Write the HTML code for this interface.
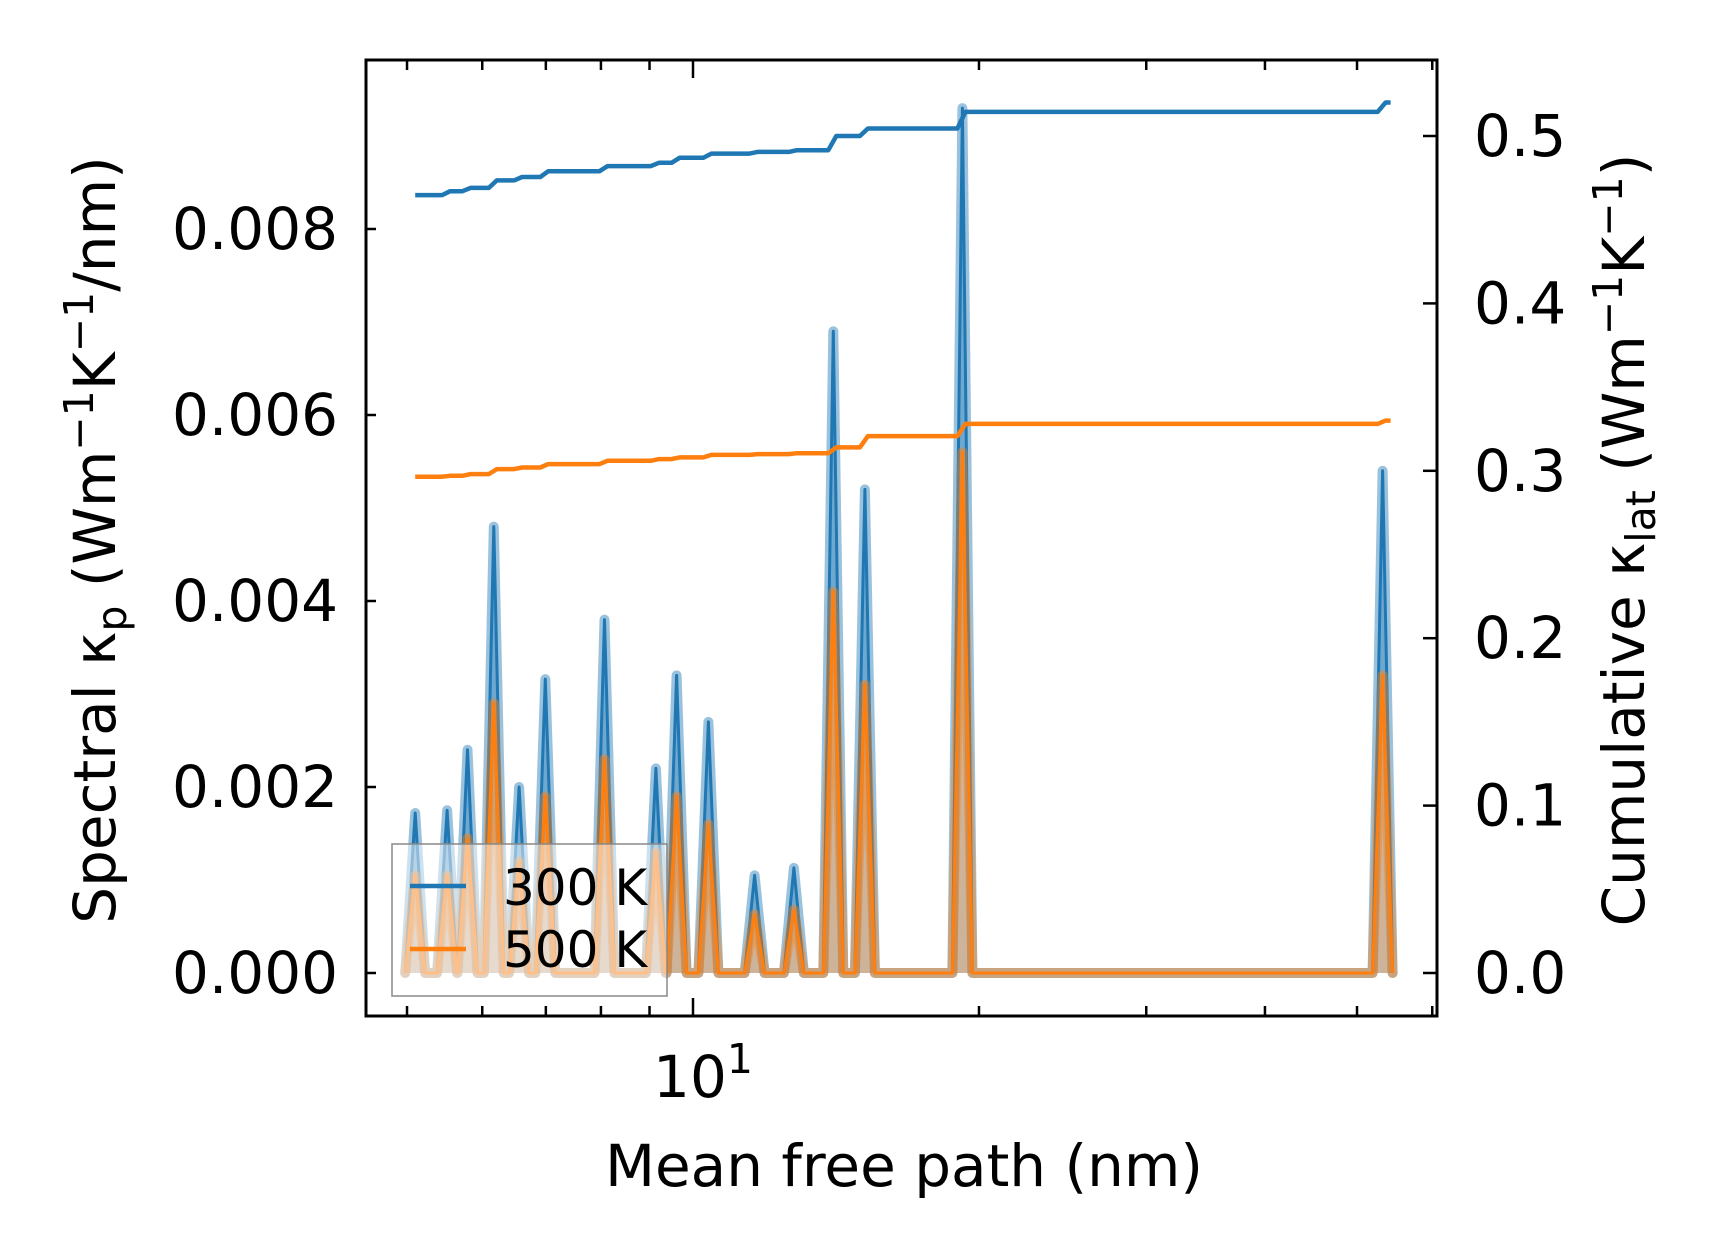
<!DOCTYPE html>
<html><head><meta charset="utf-8"><style>
body{margin:0;background:#fff}
svg text{font-family:"DejaVu Sans","Liberation Sans",sans-serif;fill:#000}
</style></head><body>
<svg id="chart" width="1716" height="1253" viewBox="0 0 1716 1253" xmlns="http://www.w3.org/2000/svg" style="position:absolute;left:0;top:0">
<rect width="1716" height="1253" fill="#fff"/>
<g id="plot"></g>
<g id="axes"></g>
</svg>
<script>
const mfp = [5.10,5.51,5.79,6.17,6.56,6.99,8.07,9.14,9.61,10.38,11.61,12.77,14.05,15.17,19.21,53.2];
const spectral300 = [0.00172,0.00175,0.0024,0.0048,0.0020,0.00316,0.0038,0.0022,0.0032,0.0027,0.00105,0.00113,0.0069,0.0052,0.0093,0.0054];
const spectral500 = [0.00105,0.00105,0.00145,0.0029,0.0012,0.0019,0.0023,0.0013,0.0019,0.0016,0.00063,0.00068,0.0041,0.0031,0.0056,0.0032];
const cum300 = [0.4647,0.467,0.469,0.4735,0.4755,0.479,0.482,0.484,0.487,0.4895,0.4905,0.4915,0.5,0.5045,0.5144,0.520];
const cum500 = [0.2965,0.297,0.298,0.301,0.302,0.304,0.306,0.307,0.308,0.3095,0.310,0.3105,0.314,0.3207,0.328,0.330];
const leftTicks = [0,0.002,0.004,0.006,0.008];
const leftTickLabels = ["0.000","0.002","0.004","0.006","0.008"];
const rightTicks = [0,0.1,0.2,0.3,0.4,0.5];
const rightTickLabels = ["0.0","0.1","0.2","0.3","0.4","0.5"];
const xMinorTicks = [5,6,7,8,9,20,30,40,50,60];

const L=366,R=1437,T=60,B=1016;
const NS="http://www.w3.org/2000/svg";
function X(v){return 693+950*Math.log10(v/10);}
function YL(v){return 973-v/0.002*186.0;}
function YR(v){return 973-v/0.1*167.4;}
function mk(tag,attrs,parent,text){const e=document.createElementNS(NS,tag);for(const k in attrs)e.setAttribute(k,attrs[k]);if(text!==undefined)e.textContent=text;parent.appendChild(e);return e;}
const plot=document.getElementById('plot'),axes=document.getElementById('axes');
const C3='#1f77b4',C5='#ff7f0e';

function spectralPts(vals){
  let pts=[];const hw=10;
  mfp.forEach((m,i)=>{const x=X(m);pts.push([x-hw,YL(0)],[x,YL(vals[i])],[x+hw,YL(0)]);});
  return pts;
}
function drawSpectral(vals,col,name){
  const pts=spectralPts(vals);
  const s=pts.map(p=>p[0].toFixed(1)+','+p[1].toFixed(1)).join(' ');
  const f=mk('polygon',{points:s+' '+pts[pts.length-1][0].toFixed(1)+','+YL(0)+' '+pts[0][0].toFixed(1)+','+YL(0),fill:col,'fill-opacity':0.35},plot);
  
  
  const w=mk('polyline',{points:s,fill:'none',stroke:col,'stroke-opacity':0.45,'stroke-width':10,'stroke-linejoin':'round','stroke-linecap':'round'},plot);
  
  
  const l=mk('polyline',{points:s,fill:'none',stroke:col,'stroke-width':3,'stroke-linejoin':'round'},plot);
  
  
}
function drawCum(vals,col,name){
  let pts=[[X(mfp[0]),YR(vals[0])]];
  for(let i=1;i<mfp.length;i++){const x=X(mfp[i]);pts.push([x-5,YR(vals[i-1])],[x+3,YR(vals[i])]);}
  pts.push([X(mfp[mfp.length-1])+8,YR(vals[vals.length-1])]);
  const l=mk('polyline',{points:pts.map(p=>p[0].toFixed(1)+','+p[1].toFixed(1)).join(' '),fill:'none',stroke:col,'stroke-width':4.5,'stroke-linejoin':'round'},plot);
  
  
}
drawSpectral(spectral300,C3,'spectral-300k');
drawSpectral(spectral500,C5,'spectral-500k');
drawCum(cum300,C3,'cumulative-300k');
drawCum(cum500,C5,'cumulative-500k');

const fr=mk('rect',{x:L,y:T,width:R-L,height:B-T,fill:'none',stroke:'#000','stroke-width':3},axes);


leftTicks.forEach((v,i)=>{const y=YL(v);
  const t=mk('line',{x1:L,x2:L+10,y1:y,y2:y,stroke:'#000','stroke-width':2.5},axes);
  
  
  const tx=mk('text',{x:L-28,y:y+20,'text-anchor':'end','font-size':58},axes,leftTickLabels[i]);
  
  
});
rightTicks.forEach((v,i)=>{const y=YR(v);
  const t=mk('line',{x1:R-14,x2:R,y1:y,y2:y,stroke:'#000','stroke-width':2.5},axes);
  
  
  const tx=mk('text',{x:R+37,y:y+20,'font-size':58},axes,rightTickLabels[i]);
  
  
});
xMinorTicks.forEach(v=>{const x=X(v);
  const t=mk('line',{x1:x,x2:x,y1:B,y2:B-10,stroke:'#000','stroke-width':2.5},axes);
  
  
  const t2=mk('line',{x1:x,x2:x,y1:T,y2:T+10,stroke:'#000','stroke-width':2.5},axes);
  
  
});
{const x=X(10);
 const t=mk('line',{x1:x,x2:x,y1:B,y2:B-18,stroke:'#000','stroke-width':2.5},axes);
 
 
 const t2=mk('line',{x1:x,x2:x,y1:T,y2:T+18,stroke:'#000','stroke-width':2.5},axes);
 
 
 const lb=mk('text',{x:x+10,y:1097,'text-anchor':'middle','font-size':58},axes);
 
 
 lb.innerHTML='10<tspan dy="-24" font-size="41">1</tspan>';
}
</script>
<svg style="position:absolute;left:0;top:0" width="1716" height="1253">
<text x="904" y="1186" font-size="58" text-anchor="middle" font-family="DejaVu Sans, sans-serif">Mean free path (nm)</text>
<text transform="translate(115,540) rotate(-90)" font-size="58" text-anchor="middle" font-family="DejaVu Sans, sans-serif">Spectral κ<tspan font-size="41" dy="11">p</tspan><tspan dy="-11"> (Wm</tspan><tspan font-size="41" dy="-22">−1</tspan><tspan dy="22">K</tspan><tspan font-size="41" dy="-22">−1</tspan><tspan dy="22">/nm)</tspan></text>
<text transform="translate(1644,540) rotate(-90)" font-size="58" text-anchor="middle" font-family="DejaVu Sans, sans-serif">Cumulative κ<tspan font-size="41" dy="11">lat</tspan><tspan dy="-11"> (Wm</tspan><tspan font-size="41" dy="-22">−1</tspan><tspan dy="22">K</tspan><tspan font-size="41" dy="-22">−1</tspan><tspan dy="22">)</tspan></text>
<g>
<rect x="392" y="844" width="275" height="152" fill="#fff" fill-opacity="0.5" stroke="#888" stroke-width="1.5"/>
<line x1="410" x2="466" y1="886" y2="886" stroke="#1f77b4" stroke-width="4.5"/>
<text x="503" y="905" font-size="50" font-family="DejaVu Sans, sans-serif">300 K</text>
<line x1="410" x2="466" y1="949" y2="949" stroke="#ff7f0e" stroke-width="4.5"/>
<text x="503" y="967" font-size="50" font-family="DejaVu Sans, sans-serif">500 K</text>
</g>
</svg>
</body></html>
